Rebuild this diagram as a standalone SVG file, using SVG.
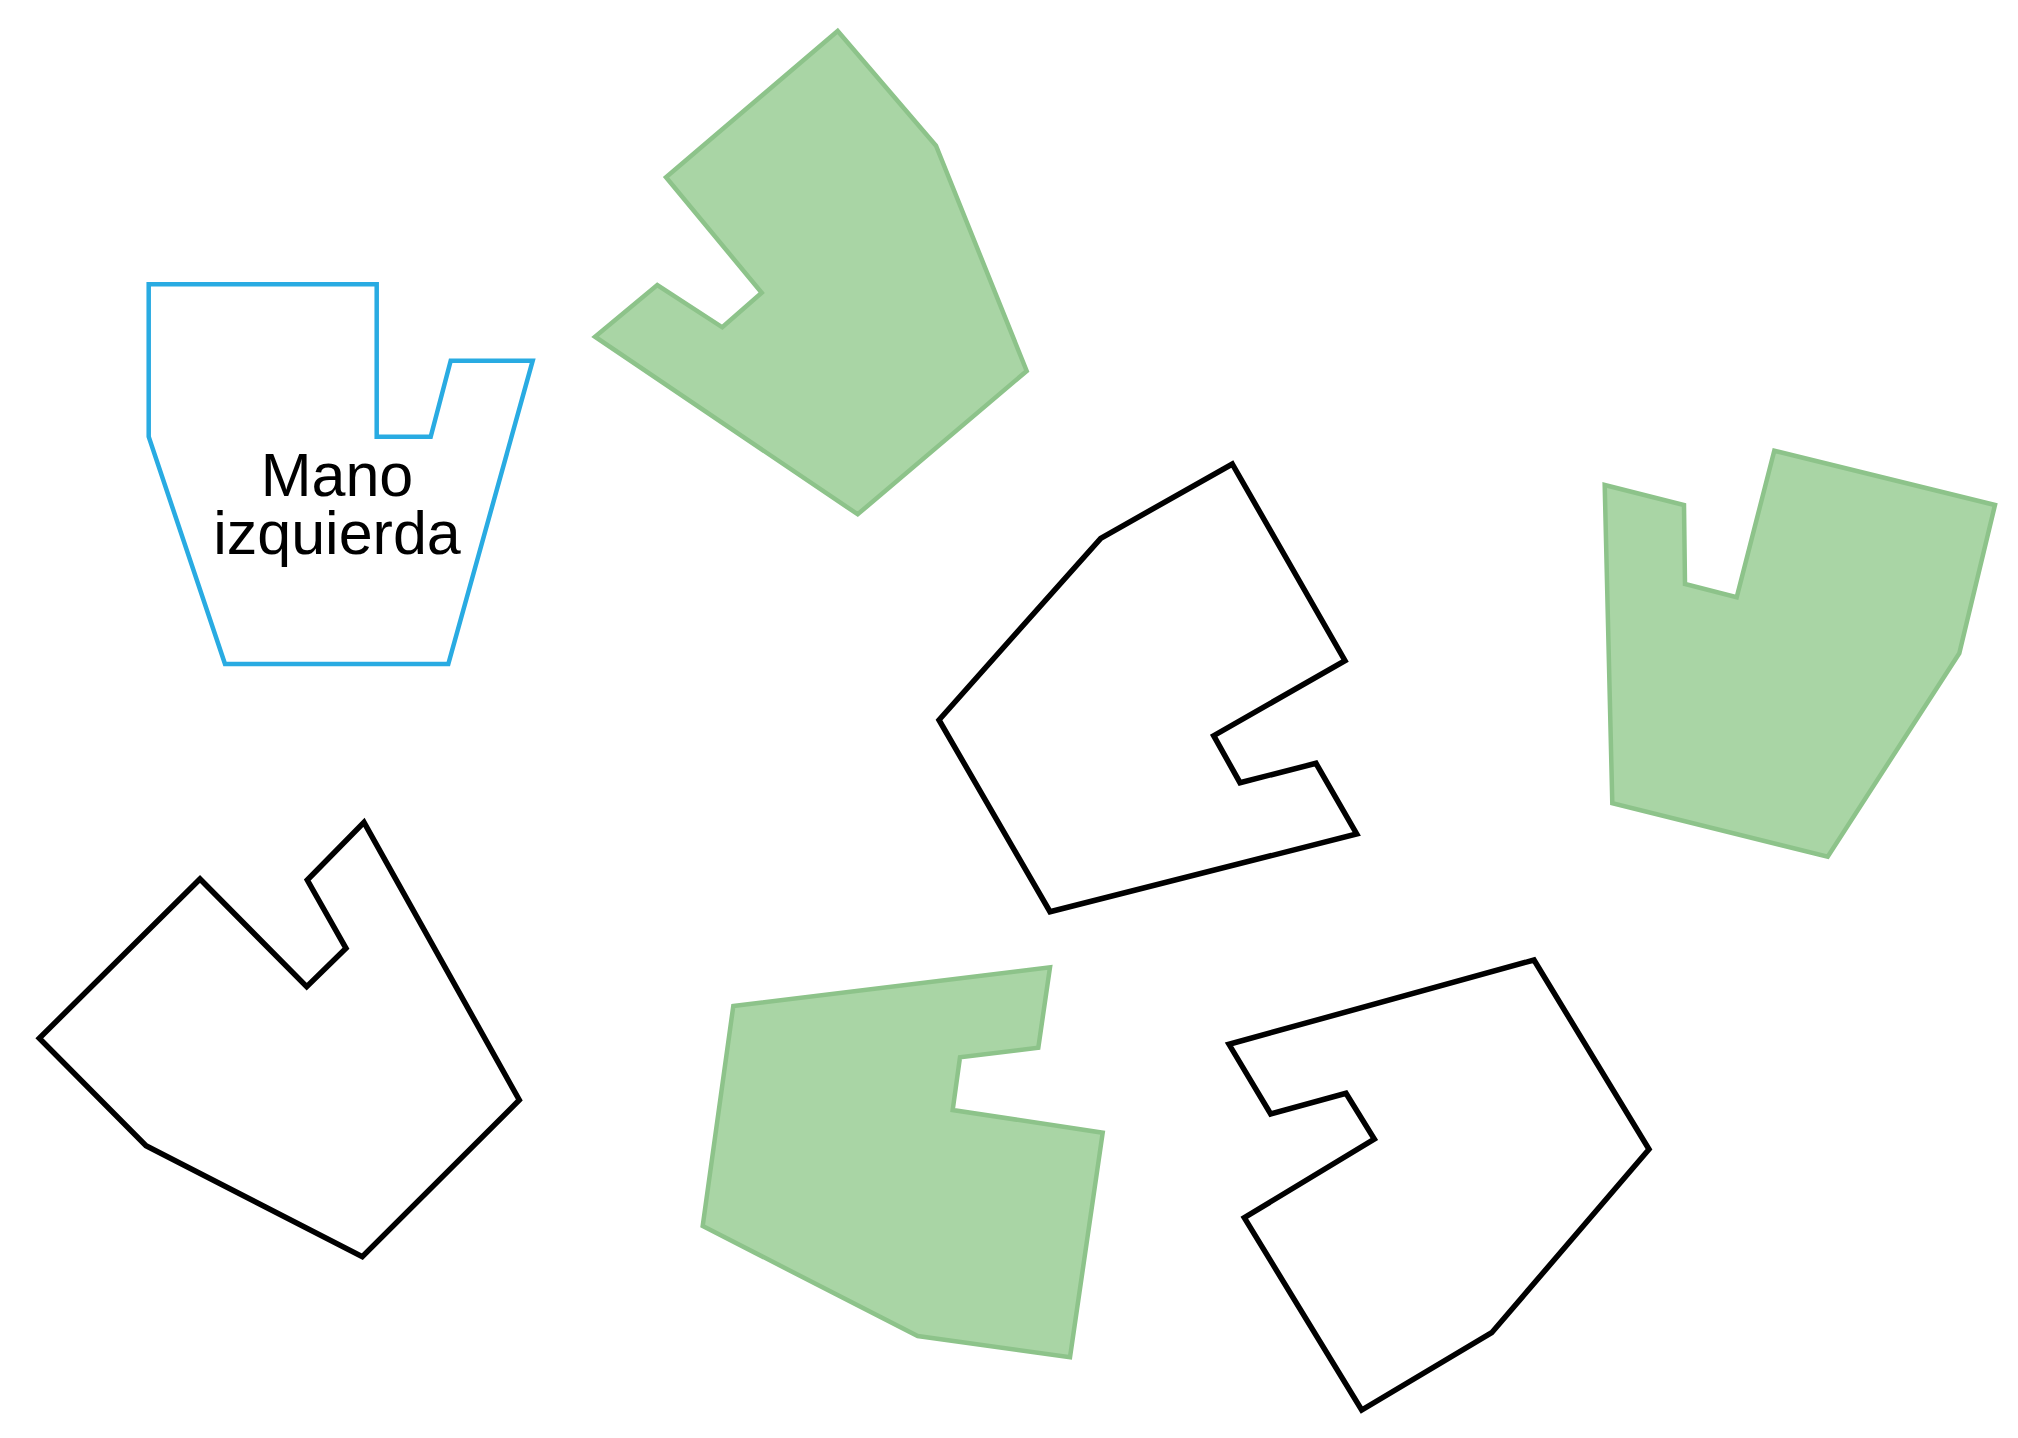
<svg xmlns="http://www.w3.org/2000/svg" width="2018" height="1438" viewBox="0 0 2018 1438">
<style>
.blue{fill:#ffffff;stroke:#29ABE2;stroke-width:4.5;stroke-linejoin:miter}
.green{fill:#A9D5A5;stroke:#8DC38A;stroke-width:4.5;stroke-linejoin:miter}
.black{fill:#ffffff;stroke:#000000;stroke-width:5.5;stroke-linejoin:miter}
.lbl{font-family:"Liberation Sans",Arial,sans-serif;font-size:61px;fill:#000000;text-anchor:middle}
</style>
<rect width="2018" height="1438" fill="#ffffff"/>
<g id="mano-izquierda">
<polygon class="blue" points="148.7,284.3 376.7,284.3 376.7,436.7 430.7,436.7 450.7,360.7 532.7,360.7 448.3,664 225,664 148.7,436.7"/>
<text class="lbl" x="337" y="496">Mano</text>
<text class="lbl" x="337" y="554">izquierda</text>
</g>
<g id="green-top">
<polygon class="green" points="837.7,31 936,145.7 1026.7,371 857.7,514.3 595,336.7 657.3,285 722.3,327.3 761.7,292.7 666,177.3"/>
</g>
<g id="black-middle">
<polygon class="black" points="1232.3,464 1345,660.7 1213.7,735.7 1240,782.7 1316,763.3 1356.7,834 1050,911.7 939,720 1100.7,538.3"/>
</g>
<g id="green-right">
<polygon class="green" points="1604.7,485 1684,505 1685,584 1736.7,597.3 1774.3,450.7 1995,505 1959.3,653.3 1827.7,856.7 1612.3,803.3"/>
</g>
<g id="black-bottom-left">
<polygon class="black" points="364,822.3 519.3,1100 362.3,1256.7 146,1145.7 39.3,1038.3 200,879 306.7,986.7 346,948.3 307.3,880"/>
</g>
<g id="green-bottom">
<polygon class="green" points="733.3,1006 1050,967.3 1038.3,1047.7 960,1057.3 952.7,1110 1102.7,1132.7 1070,1357.3 917.7,1336 702.7,1226"/>
</g>
<g id="black-bottom-right">
<polygon class="black" points="1534,960 1649,1149.3 1491.7,1332.7 1361.7,1410 1244.3,1217.7 1374.3,1139 1346,1093.3 1270.7,1114 1229,1044.3"/>
</g>
<g id="connectors"></g>
</svg>
